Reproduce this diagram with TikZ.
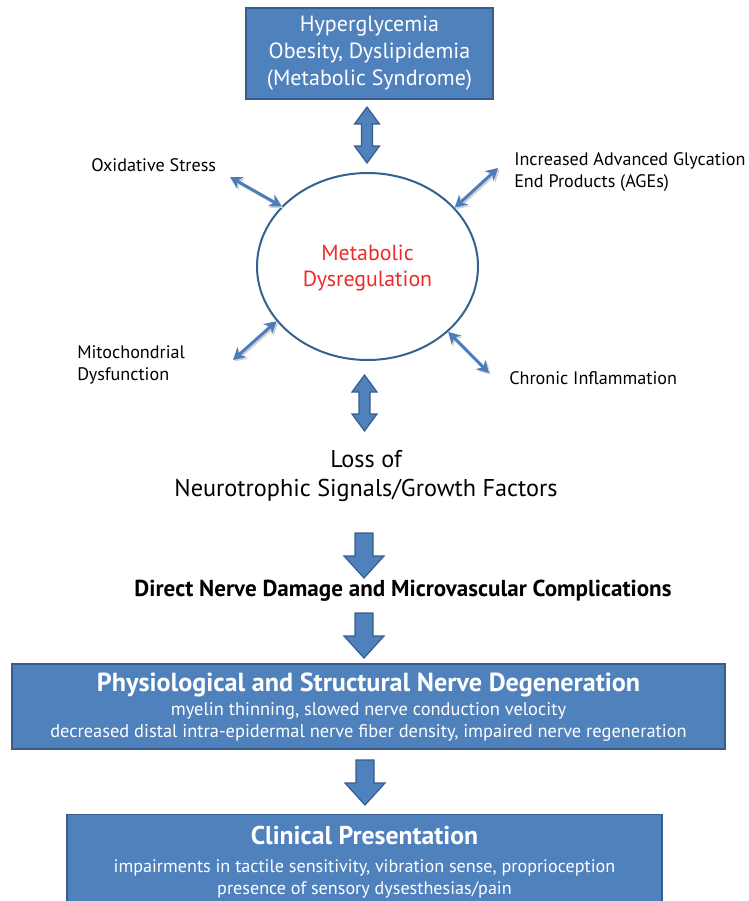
\documentclass[tikz,border=0pt]{standalone}
\usepackage{fontspec}
\setmainfont{PT Sans}
\usetikzlibrary{shapes.geometric,arrows.meta,calc}
\definecolor{boxblue}{HTML}{4F81BD}
\definecolor{boxedge}{HTML}{385D8A}
\definecolor{thinblue}{HTML}{4A7EBB}
\definecolor{elledge}{HTML}{36608F}
\definecolor{redtxt}{HTML}{EE2A2A}
\tikzset{
  bluebox/.style={draw=boxedge,fill=boxblue,line width=1.2pt,inner sep=0pt},
  barrow/.style={draw=boxedge,fill=boxblue,line width=0.9pt,line join=miter},
  thinarr/.style={draw=thinblue,line width=2.2pt,{Stealth[length=9pt,width=10pt,inset=3pt]}-{Stealth[length=9pt,width=10pt,inset=3pt]}},
  thinshadow/.style={draw=black!18,line width=2.2pt,{Stealth[length=9pt,width=10pt,inset=3pt]}-{Stealth[length=9pt,width=10pt,inset=3pt]}},
  sidelbl/.style={anchor=west,align=left,inner sep=0pt,font={\fontsize{13.6}{16.5}\selectfont}},
  whitetxt/.style={text=white,align=center,inner sep=0pt},
}
\newcommand\dnarrow[2]{%
  \filldraw[barrow] ($(#1)+(-9,0)$) -- ($(#1)+(9,0)$) -- ($(#2)+(9,-22)$) -- ($(#2)+(20,-22)$) -- (#2) -- ($(#2)+(-20,-22)$) -- ($(#2)+(-9,-22)$) -- cycle;}
\newcommand\dblarrow[2]{%
  \filldraw[barrow] (#1) -- ($(#1)+(12.5,17)$) -- ($(#1)+(5.5,17)$) -- ($(#2)+(5.5,-17)$) -- ($(#2)+(12.5,-17)$) -- (#2) -- ($(#2)+(-12.5,-17)$) -- ($(#2)+(-5.5,-17)$) -- ($(#1)+(-5.5,17)$) -- ($(#1)+(-12.5,17)$) -- cycle;}
\begin{document}
\begin{tikzpicture}[x=0.75pt,y=-0.75pt]
\useasboundingbox (0,0) rectangle (749,901);
\clip (0,0) rectangle (749,901);
% top box
\node[bluebox,minimum width=247*0.75pt,minimum height=91*0.75pt] (top) at (369.5,53.5) {};
\node[whitetxt,font={\fontsize{16.5}{20.25}\selectfont}] (topT) at (369.5,53) {Hyperglycemia\\Obesity, Dyslipidemia\\(Metabolic Syndrome)};
% ellipse
\node[ellipse,draw=elledge,line width=1.5pt,minimum width=221*0.75pt,minimum height=187*0.75pt,inner sep=0pt] (ell) at (367.5,266.5) {};
\node[text=redtxt,align=center,inner sep=0pt,font={\fontsize{16.4}{19.5}\selectfont}] (ellT) at (367.5,268) {Metabolic\\Dysregulation};
% side labels
\node[sidelbl] (ox) at (91,165) {Oxidative Stress};
\node[sidelbl] (age) at (514,172) {Increased Advanced Glycation\\End Products (AGEs)};
\node[sidelbl] (mito) at (77,365) {Mitochondrial\\Dysfunction};
\node[sidelbl] (chr) at (509,378) {Chronic Inflammation};
% free ends of thin arrows
\coordinate (oxE) at (230,177);
\coordinate (ageE) at (498,168);
\coordinate (mitoE) at (233,360);
\coordinate (chrE) at (489,373);
\begin{scope}[transform canvas={shift={(1.2pt,-1.2pt)}}]
\draw[thinshadow] (oxE) -- (ell.145);
\draw[thinshadow] (ageE) -- (ell.34);
\draw[thinshadow] (mitoE) -- (ell.211.5);
\draw[thinshadow] (chrE) -- (ell.-39);
\end{scope}
\draw[thinarr] (oxE) -- (ell.145);
\draw[thinarr] (ageE) -- (ell.34);
\draw[thinarr] (mitoE) -- (ell.211.5);
\draw[thinarr] (chrE) -- (ell.-39);
% loss
\node[align=center,inner sep=0pt,font={\fontsize{18.2}{21.5}\selectfont}] (loss) at (366,476) {Loss of\\Neurotrophic Signals/Growth Factors};
% direct
\node[inner sep=0pt,font={\bfseries\fontsize{17.3}{20}\selectfont}] (direct) at (403,591) {Direct Nerve Damage and Microvascular Complications};
% box 2
\node[bluebox,minimum width=713*0.75pt,minimum height=85*0.75pt] (phys) at (368.5,706.5) {};
\node[whitetxt,font={\bfseries\fontsize{19.6}{22}\selectfont}] (physT) at (368.5,685) {Physiological and Structural Nerve Degeneration};
\node[whitetxt,font={\fontsize{13.8}{16.5}\selectfont}] (physL) at (368.5,722) {myelin thinning, slowed nerve conduction velocity\\decreased distal intra-epidermal nerve fiber density, impaired nerve regeneration};
% box 3
\node[bluebox,minimum width=595*0.75pt,minimum height=95*0.75pt] (clin) at (364.5,862) {};
\node[whitetxt,font={\bfseries\fontsize{19.3}{22}\selectfont}] (clinT) at (364.5,835) {Clinical Presentation};
\node[whitetxt,font={\fontsize{13.6}{16.5}\selectfont}] (clinL) at (364.5,879) {impairments in tactile sensitivity, vibration sense, proprioception\\presence of sensory dysesthesias/pain};
% block arrows
\coordinate (d1s) at (367,107); \coordinate (d1e) at (367,163);
\dblarrow{d1s}{d1e}
\coordinate (d2s) at (364.5,375); \coordinate (d2e) at (364.5,431);
\dblarrow{d2s}{d2e}
\coordinate (a1s) at (364,533); \coordinate (a1e) at (364,578);
\dnarrow{a1s}{a1e}
\coordinate (a2s) at (364,613); \coordinate (a2e) at (364,658);
\dnarrow{a2s}{a2e}
\coordinate (a3s) at (365,760); \coordinate (a3e) at (365,805);
\dnarrow{a3s}{a3e}
\end{tikzpicture}
\end{document}
